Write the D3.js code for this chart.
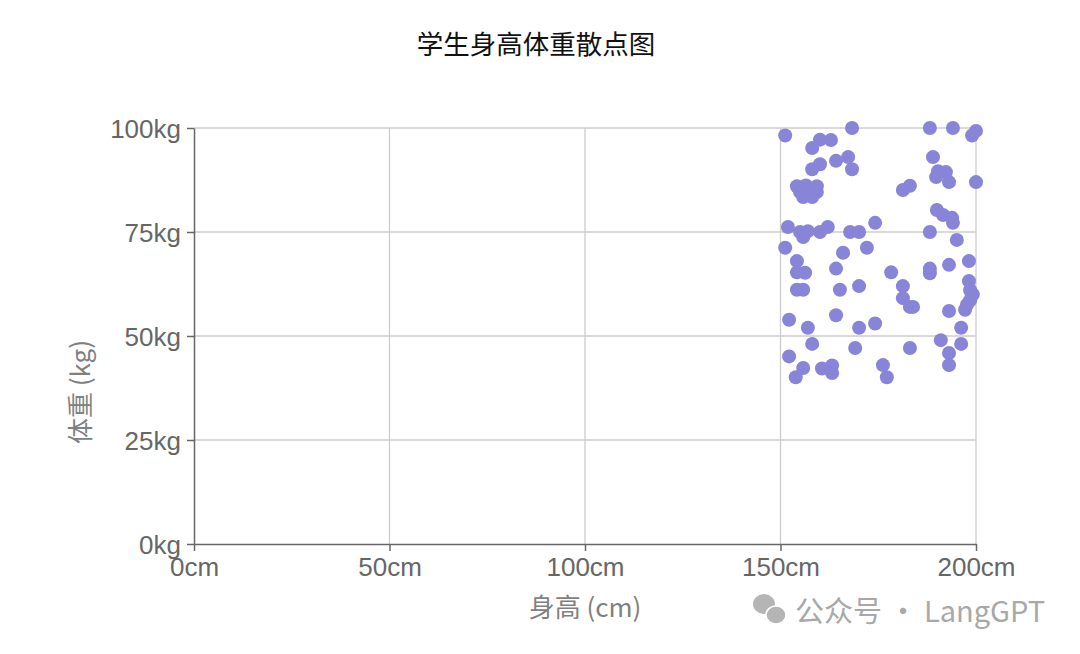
<!DOCTYPE html>
<html>
<head>
<meta charset="utf-8">
<script src="https://cdn.jsdelivr.net/npm/d3@7"></script>
<style>
  html, body { margin: 0; padding: 0; background: #fff; }
  svg { display: block; }
</style>
</head>
<body>
<svg id="chart" width="1080" height="654"></svg>
<script>
// ---- data ----
const heights = [
  151.2, 168.3, 160.1, 162.9, 158.1, 164.2, 167.3, 168.3, 160.1, 158.1,
  154.2, 156.5, 159.3, 155.0, 157.5, 159.3, 155.8, 158.1,
  188.2, 194.1, 200.0, 199.0, 189.0, 190.3, 192.3, 189.8, 193.1, 200.0, 181.3, 183.1,
  151.9, 155.0, 157.0, 155.8, 160.1, 162.1, 167.8, 170.1, 174.2,
  188.2, 190.0, 191.6, 193.9, 194.1, 195.1,
  151.2, 166.0, 172.1, 154.2, 154.2, 156.3, 164.2, 178.3, 188.2, 188.2, 193.1, 198.2, 198.2,
  154.2, 155.8, 165.2, 170.1, 181.3, 181.3, 183.1, 183.9, 193.1, 197.2, 197.7, 198.5, 199.2, 198.5,
  152.2, 157.0, 164.2, 170.1, 174.2, 158.1, 169.1, 152.2, 155.8, 153.9, 160.6, 163.2, 163.2,
  196.2, 191.0, 196.2, 183.1, 193.1, 193.1, 176.2, 177.2
];
const weights = [
  98.2, 100.0, 97.2, 97.1, 95.2, 92.1, 93.0, 90.1, 91.3, 90.1,
  86.0, 86.2, 86.0, 84.6, 84.8, 84.6, 83.4, 83.4,
  100.0, 100.0, 99.3, 98.2, 93.0, 89.6, 89.4, 88.2, 87.0, 87.0, 85.1, 86.1,
  76.2, 75.0, 75.2, 73.8, 75.0, 76.2, 75.0, 75.0, 77.2,
  75.0, 80.3, 79.1, 78.4, 77.2, 73.1,
  71.2, 70.0, 71.2, 68.0, 65.3, 65.2, 66.2, 65.3, 66.2, 65.1, 67.1, 68.0, 63.2,
  61.1, 61.1, 61.1, 62.0, 62.0, 59.1, 57.0, 57.0, 56.0, 56.3, 57.5, 58.6, 60.0, 61.0,
  53.9, 52.0, 55.0, 52.0, 53.0, 48.1, 47.1, 45.1, 42.3, 40.1, 42.2, 42.9, 41.1,
  52.0, 49.0, 48.1, 47.1, 45.9, 43.0, 43.0, 40.1
];
const xTicks = [0, 50, 100, 150, 200];
const yTicks = [0, 25, 50, 75, 100];
const titleText = "学生身高体重散点图";
const xLabel = "身高 (cm)";
const yLabel = "体重 (kg)";
const watermark = "公众号 · LangGPT";

// ---- layout ----
const svg = d3.select("#chart");
const margin = { left: 194, right: 104, top: 128, bottom: 110 };
const W = 1080, H = 654;
const x = d3.scaleLinear().domain([0, 200]).range([margin.left, W - margin.right]);
const y = d3.scaleLinear().domain([0, 100]).range([H - margin.bottom, margin.top]);
const fontFamily = "'Liberation Sans', 'Noto Sans CJK SC', sans-serif";
const cjkFont = "'Noto Sans CJK SC', 'Liberation Sans', sans-serif";

// grid
const grid = svg.append("g");
grid.selectAll("line.h").data(yTicks.filter(d => d > 0)).enter().append("line")
  .attr("x1", x(0)).attr("x2", x(200))
  .attr("y1", d => y(d)).attr("y2", d => y(d))
  .attr("stroke", "#cccccc").attr("stroke-width", 1.3);
grid.selectAll("line.v").data(xTicks.filter(d => d > 0)).enter().append("line")
  .attr("y1", y(0)).attr("y2", y(100))
  .attr("x1", d => x(d)).attr("x2", d => x(d))
  .attr("stroke", "#cccccc").attr("stroke-width", 1.3);

// axes
const xAxis = svg.append("g")
  .attr("transform", `translate(0,${y(0)})`)
  .call(d3.axisBottom(x).tickValues(xTicks).tickSize(7).tickSizeOuter(0).tickFormat(d => d + "cm"));
const yAxis = svg.append("g")
  .attr("transform", `translate(${x(0)},0)`)
  .call(d3.axisLeft(y).tickValues(yTicks).tickSize(7).tickSizeOuter(0).tickFormat(d => d + "kg"));

[xAxis, yAxis].forEach(g => {
  g.select(".domain").attr("stroke", "#666").attr("stroke-width", 1.5);
  g.selectAll(".tick line").attr("stroke", "#666").attr("stroke-width", 1.5);
  g.selectAll(".tick text")
    .attr("fill", "#666")
    .style("font-family", fontFamily)
    .style("font-size", "26px");
});
xAxis.selectAll(".tick text").attr("dy", "0.71em").attr("y", 14);
yAxis.selectAll(".tick text").attr("x", -13).attr("dy", "0.35em");

// points
svg.append("g").selectAll("circle")
  .data(heights.map((h, i) => ({ h, w: weights[i] })))
  .enter().append("circle")
  .attr("cx", d => x(d.h))
  .attr("cy", d => y(d.w))
  .attr("r", 7)
  .attr("fill", "#8884d8");

// title
svg.append("text")
  .attr("x", 536).attr("y", 42)
  .attr("text-anchor", "middle").attr("dominant-baseline", "central")
  .style("font-family", cjkFont).style("font-size", "26.5px")
  .attr("fill", "#111")
  .text(titleText);

// axis labels
svg.append("text")
  .attr("x", 585).attr("y", 605)
  .attr("text-anchor", "middle").attr("dominant-baseline", "central")
  .style("font-family", cjkFont).style("font-size", "26px")
  .attr("fill", "#808080")
  .text(xLabel);

svg.append("text")
  .attr("transform", "translate(78,392) rotate(-90)")
  .attr("text-anchor", "middle").attr("dominant-baseline", "central")
  .style("font-family", cjkFont).style("font-size", "26px")
  .attr("fill", "#808080")
  .text(yLabel);

// watermark
const wm = svg.append("g").attr("fill", "#b5b5b5");
wm.append("ellipse").attr("cx", 764).attr("cy", 604).attr("rx", 11).attr("ry", 10);
wm.append("ellipse").attr("cx", 776).attr("cy", 615).attr("rx", 10).attr("ry", 9).attr("stroke", "#fff").attr("stroke-width", 1.5);
svg.append("text")
  .attr("x", 795).attr("y", 609)
  .attr("dominant-baseline", "central")
  .style("font-family", cjkFont).style("font-size", "29px")
  .attr("fill", "#a8a8a8")
  .text(watermark);
</script>
</body>
</html>
